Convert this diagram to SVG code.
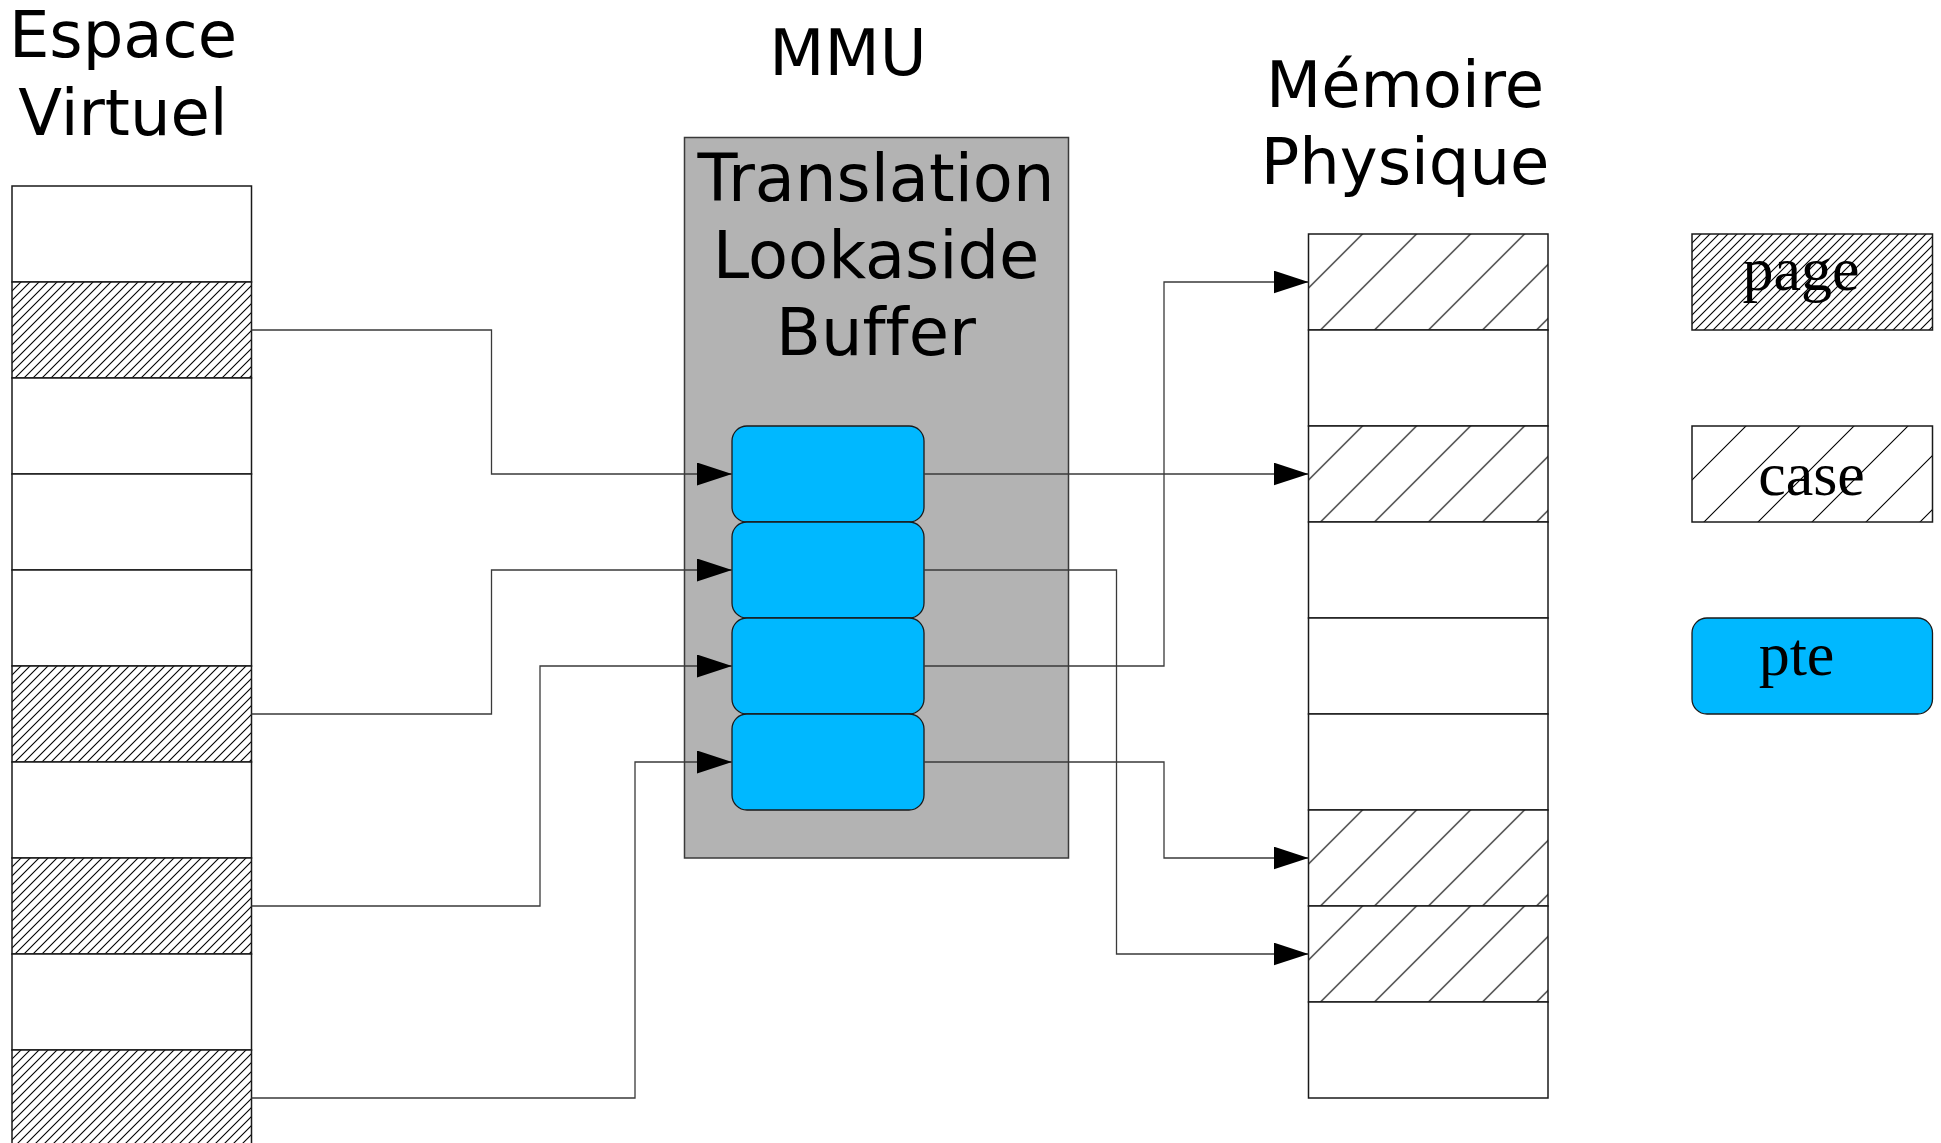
<svg xmlns="http://www.w3.org/2000/svg" width="1941" height="1143" viewBox="0 0 1941 1143">
  <style>
    text { font-variant-ligatures: none; }
    .title { font-family: "DejaVu Sans", Verdana, sans-serif; font-size: 64px; fill: #000; text-anchor: middle; }
    .tlb-title { font-family: "DejaVu Sans", Verdana, sans-serif; font-size: 65.5px; fill: #000; text-anchor: middle; }
    .legend-text { font-family: "Liberation Serif", "Times New Roman", serif; font-size: 62px; fill: #000; text-anchor: middle; }
    .cell { fill: #fff; stroke: #1a1a1a; stroke-width: 1.5; }
    .fine { fill: url(#hatch-fine); }
    .coarse { fill: url(#hatch-coarse); }
    .mmu-box { fill: #b3b3b3; stroke: #3a3a3a; stroke-width: 1.5; }
    .pte { fill: #00b8ff; stroke: #1a1a1a; stroke-width: 1.3; }
    .wire { fill: none; stroke: #3a3a3a; stroke-width: 1.3; }
    .arrow { marker-end: url(#arrowhead); }
  </style>
  <defs>
    <!-- dense 45° hatching used for virtual pages -->
    <pattern id="hatch-fine" patternUnits="userSpaceOnUse" width="9" height="9">
      <rect width="9" height="9" fill="#fff"/>
      <path d="M0,9 L9,0 M-1,1 L1,-1 M8,10 L10,8" stroke="#000" stroke-width="1.1"/>
    </pattern>
    <!-- wide 45° hatching used for physical frames -->
    <pattern id="hatch-coarse" patternUnits="userSpaceOnUse" width="54" height="54">
      <rect width="54" height="54" fill="#fff"/>
      <path d="M0,54 L54,0 M-2,2 L2,-2 M52,56 L56,52" stroke="#000" stroke-width="1.1"/>
    </pattern>
    <marker id="arrowhead" markerUnits="userSpaceOnUse" markerWidth="35" markerHeight="23" refX="35" refY="11.5" orient="auto">
      <path d="M0,0 L35,11.5 L0,23 Z" fill="#000"/>
    </marker>
  </defs>

  <!-- Virtual address space -->
  <g id="virtual-space">
    <text class="title" x="123" y="57">Espace</text>
    <text class="title" x="123" y="135">Virtuel</text>
    <g id="virt-0" transform="translate(12,186)"><rect class="cell" width="239.5" height="96"/></g>
    <g id="virt-1" transform="translate(12,282)"><rect class="cell fine" width="239.5" height="96"/></g>
    <g id="virt-2" transform="translate(12,378)"><rect class="cell" width="239.5" height="96"/></g>
    <g id="virt-3" transform="translate(12,474)"><rect class="cell" width="239.5" height="96"/></g>
    <g id="virt-4" transform="translate(12,570)"><rect class="cell" width="239.5" height="96"/></g>
    <g id="virt-5" transform="translate(12,666)"><rect class="cell fine" width="239.5" height="96"/></g>
    <g id="virt-6" transform="translate(12,762)"><rect class="cell" width="239.5" height="96"/></g>
    <g id="virt-7" transform="translate(12,858)"><rect class="cell fine" width="239.5" height="96"/></g>
    <g id="virt-8" transform="translate(12,954)"><rect class="cell" width="239.5" height="96"/></g>
    <g id="virt-9" transform="translate(12,1050)"><rect class="cell fine" width="239.5" height="96"/></g>
  </g>

  <!-- Physical memory -->
  <g id="physical-memory">
    <text class="title" x="1405" y="107">Mémoire</text>
    <text class="title" x="1405" y="184">Physique</text>
    <g id="phys-0" transform="translate(1308.5,234)"><rect class="cell coarse" width="239.5" height="96"/></g>
    <g id="phys-1" transform="translate(1308.5,330)"><rect class="cell" width="239.5" height="96"/></g>
    <g id="phys-2" transform="translate(1308.5,426)"><rect class="cell coarse" width="239.5" height="96"/></g>
    <g id="phys-3" transform="translate(1308.5,522)"><rect class="cell" width="239.5" height="96"/></g>
    <g id="phys-4" transform="translate(1308.5,618)"><rect class="cell" width="239.5" height="96"/></g>
    <g id="phys-5" transform="translate(1308.5,714)"><rect class="cell" width="239.5" height="96"/></g>
    <g id="phys-6" transform="translate(1308.5,810)"><rect class="cell coarse" width="239.5" height="96"/></g>
    <g id="phys-7" transform="translate(1308.5,906)"><rect class="cell coarse" width="239.5" height="96"/></g>
    <g id="phys-8" transform="translate(1308.5,1002)"><rect class="cell" width="239.5" height="96"/></g>
  </g>

  <!-- MMU with its TLB -->
  <g id="mmu">
    <text class="title" x="848" y="75">MMU</text>
    <rect class="mmu-box" x="684.5" y="137.5" width="384" height="720.5"/>
    <text class="tlb-title" x="876" y="201">Translation</text>
    <text class="tlb-title" x="876" y="278">Lookaside</text>
    <text class="tlb-title" x="876" y="355">Buffer</text>
  </g>
  <g id="tlb-0"><rect class="pte" x="732" y="426" width="192" height="96" rx="15"/></g>
  <g id="tlb-1"><rect class="pte" x="732" y="522" width="192" height="96" rx="15"/></g>
  <g id="tlb-2"><rect class="pte" x="732" y="618" width="192" height="96" rx="15"/></g>
  <g id="tlb-3"><rect class="pte" x="732" y="714" width="192" height="96" rx="15"/></g>

  <!-- Translations: virtual page -> TLB entry -> physical frame -->
  <g id="connectors">
    <path class="wire arrow" d="M251.5,330 H491.5 V474 H732"/>
    <path class="wire arrow" d="M251.5,714 H491.5 V570 H732"/>
    <path class="wire arrow" d="M251.5,906 H540 V666 H732"/>
    <path class="wire arrow" d="M251.5,1098 H635 V762 H732"/>
    <path class="wire arrow" d="M924,474 H1308.5"/>
    <path class="wire arrow" d="M924,570 H1116.5 V954 H1308.5"/>
    <path class="wire arrow" d="M924,666 H1164 V282 H1308.5"/>
    <path class="wire arrow" d="M924,762 H1164 V858 H1308.5"/>
  </g>

  <!-- Legend -->
  <g id="legend-page" transform="translate(1692,234)">
    <rect class="cell fine" width="240.5" height="96"/>
    <text class="legend-text" x="109" y="56">page</text>
  </g>
  <g id="legend-case" transform="translate(1692,426)">
    <rect class="cell coarse" width="240.5" height="96"/>
    <text class="legend-text" x="119.5" y="69">case</text>
  </g>
  <g id="legend-pte">
    <rect class="pte" x="1692" y="618" width="240.5" height="96" rx="15"/>
    <text class="legend-text" x="1796.5" y="675">pte</text>
  </g>
</svg>
